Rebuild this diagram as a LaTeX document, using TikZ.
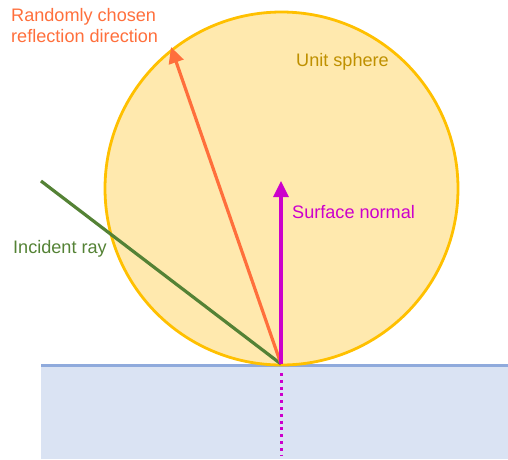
\documentclass[tikz,border=0pt]{standalone}
\usepackage{fontspec}
\setmainfont{Liberation Sans}
\usetikzlibrary{arrows.meta}
\definecolor{sphfill}{HTML}{FFE9AE}
\definecolor{sphline}{HTML}{FFC000}
\definecolor{sphtext}{HTML}{BF9000}
\definecolor{surffill}{HTML}{DAE3F3}
\definecolor{surfline}{HTML}{8FAADC}
\definecolor{raygreen}{HTML}{548235}
\definecolor{refl}{HTML}{FF6F3C}
\definecolor{normc}{HTML}{CC00CC}
\begin{document}
\begin{tikzpicture}[x=1pt,y=-1pt,
  lbl/.style={font=\fontsize{18.1}{21}\selectfont, inner sep=0pt, align=left},
  ray/.style={line width=3.2pt},
  arr/.style={ray, -{Triangle[length=16pt,width=15pt]}}]
\useasboundingbox (0,0) rectangle (508,459);
\fill[surffill] (41,365) rectangle (508,459);
\draw[surfline, line width=3pt] (41,365) -- (508,365);
\node[circle, draw=sphline, fill=sphfill, line width=2.8pt, minimum size=353pt, inner sep=0pt] (sphere) at (281.5,188.5) {};
\coordinate (O) at (281,364);
\coordinate (I) at (41,181);
\coordinate (R) at (171,47);
\coordinate (N) at (281,181);
\coordinate (D) at (281,455);
\draw[raygreen, ray] (I) -- (O);
\draw[refl, arr] (O) -- (R);
\draw[normc, arr] (O) -- (N);
\draw[normc, line width=3pt, dash pattern=on 3pt off 3.8pt] (281,373) -- (D);
\node[lbl, text=refl, anchor=north west] (rlab) at (11,8) {Randomly chosen\\reflection direction};
\node[lbl, text=sphtext, anchor=west] (slab) at (296,62) {Unit sphere};
\node[lbl, text=normc, anchor=west] (nlab) at (292,212) {Surface normal};
\node[lbl, text=raygreen, anchor=west] (ilab) at (13,249) {Incident ray};
\end{tikzpicture}
\end{document}
